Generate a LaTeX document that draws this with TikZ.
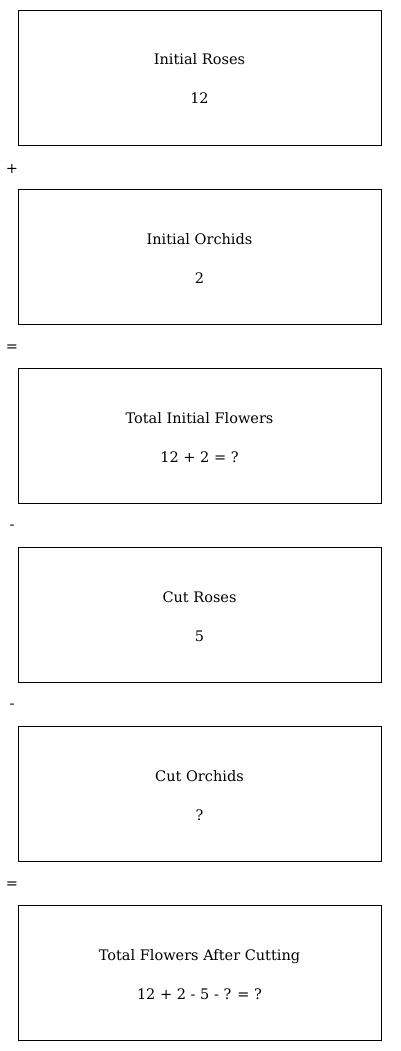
\documentclass[tikz,border=0pt]{standalone}
\usepackage{fontspec}
\setmainfont{DejaVu Serif}
\usepackage{tikz}
\usetikzlibrary{positioning}
\tikzset{
  stepbox/.style={draw=black,line width=0.8pt,minimum width=363pt,minimum height=135pt,inner sep=0pt},
  boxtitle/.style={font=\fontsize{14.5}{17}\selectfont,inner sep=0pt,anchor=base},
  opsign/.style={font=\fontsize{14.5}{17}\selectfont,inner sep=0pt},
}
\newcommand{\flowbox}[5]{%
  \node[stepbox] (#1) at (199.5,#2) {};
  \node[boxtitle] (#1-title) at ([yshift=12.5pt]#1.center) {#3};
  \node[boxtitle] (#1-value) at ([yshift=-26.5pt]#1.center) {#4};
  \node[opsign] (#1-op) at ([yshift=-91.5pt]#1.center -| 12,0) {#5};}
\begin{document}
\begin{tikzpicture}[x=1pt,y=-1pt]
  \useasboundingbox (0,0) rectangle (400,1051);
  \flowbox{roses}{77.5}{Initial Roses}{12}{+}
  \flowbox{orchids}{256.5}{Initial Orchids}{2}{=}
  \flowbox{total}{435.5}{Total Initial Flowers}{12 + 2 = ?}{-}
  \flowbox{cutroses}{614.5}{Cut Roses}{5}{-}
  \flowbox{cutorchids}{793.5}{Cut Orchids}{?}{=}
  \node[stepbox] (final) at (199.5,972.5) {};
  \node[boxtitle] (final-title) at ([yshift=12.5pt]final.center) {Total Flowers After Cutting};
  \node[boxtitle] (final-value) at ([yshift=-26.5pt]final.center) {12 + 2 - 5 - ? = ?};
\end{tikzpicture}
\end{document}
